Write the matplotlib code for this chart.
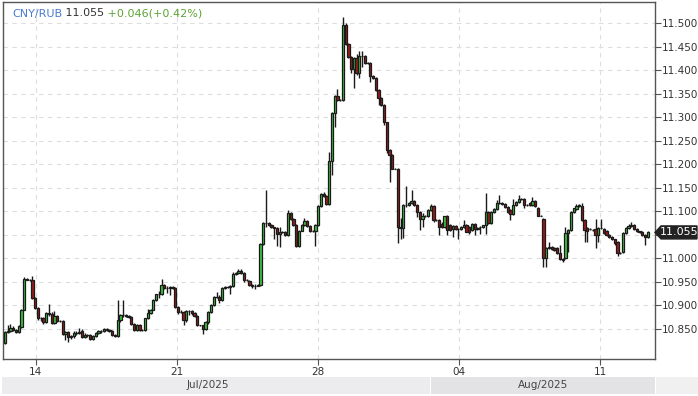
import matplotlib
matplotlib.use("Agg")
import matplotlib.pyplot as plt
from matplotlib.patches import Polygon
from matplotlib.transforms import blended_transform_factory
import numpy as np

# ---------------- data ----------------
opens = [
 10.819,10.844,10.846,10.851,10.847,10.843,10.853,10.891,10.956,10.954,
 10.954,10.915,10.895,10.872,10.873,10.864,10.883,10.882,10.863,10.877,
 10.867,10.867,10.839,10.843,10.833,10.834,10.840,10.842,10.845,10.833,
 10.836,10.836,10.829,10.834,10.841,10.845,10.845,10.849,10.848,10.846,
 10.836,10.834,10.868,10.879,10.879,10.878,10.876,10.861,10.847,10.858,
 10.847,10.847,10.872,10.883,10.891,10.912,10.923,10.925,10.943,10.936,
 10.937,10.938,10.937,10.896,10.885,10.886,10.868,10.888,10.887,10.883,
 10.878,10.857,10.857,10.850,10.864,10.885,10.900,10.917,10.918,10.912,
 10.937,10.939,10.939,10.941,10.967,10.968,10.974,10.968,10.953,10.951,
 10.944,10.942,10.942,10.943,11.031,11.076,11.075,11.070,11.066,11.064,
 11.052,11.056,11.056,11.049,11.097,11.084,11.070,11.027,11.059,11.070,
 11.080,11.068,11.058,11.059,11.071,11.112,11.136,11.132,11.115,11.206,
 11.309,11.345,11.337,11.337,11.496,11.456,11.429,11.402,11.426,11.394,
 11.430,11.430,11.415,11.415,11.388,11.383,11.358,11.340,11.326,11.289,
 11.230,11.219,11.191,11.191,11.067,11.064,11.113,11.114,11.118,11.121,
 11.113,11.099,11.084,11.091,11.090,11.102,11.111,11.082,11.082,11.072,
 11.067,11.091,11.070,11.062,11.068,11.063,11.063,11.067,11.070,11.066,
 11.060,11.074,11.063,11.066,11.067,11.070,11.099,11.075,11.099,11.104,
 11.118,11.116,11.116,11.109,11.102,11.095,11.113,11.120,11.127,11.127,
 11.113,11.118,11.113,11.122,11.108,11.091,11.084,11.000,11.021,11.025,
 11.021,11.021,11.012,10.998,11.000,11.053,11.060,11.098,11.104,11.111,
 11.111,11.082,11.064,11.062,11.060,11.062,11.050,11.064,11.062,11.059,
 11.050,11.045,11.040,11.035,11.011,11.014,11.053,11.064,11.069,11.071,
 11.062,11.057,11.055,11.050,11.046,
]
highs = [
 10.846,10.858,10.860,10.855,10.850,10.857,10.893,10.961,10.958,10.956,
 10.962,10.917,10.897,10.876,10.876,10.886,10.902,10.885,10.888,10.879,
 10.869,10.869,10.846,10.846,10.837,10.846,10.845,10.852,10.849,10.840,
 10.839,10.838,10.836,10.843,10.847,10.848,10.851,10.852,10.850,10.848,
 10.838,10.912,10.882,10.911,10.881,10.880,10.878,10.863,10.860,10.860,
 10.849,10.874,10.893,10.893,10.914,10.925,10.931,10.955,10.945,10.942,
 10.941,10.940,10.939,10.898,10.890,10.888,10.890,10.890,10.889,10.885,
 10.880,10.859,10.858,10.866,10.887,10.902,10.919,10.928,10.921,10.939,
 10.942,10.941,10.943,10.971,10.970,10.978,10.978,10.970,10.955,10.953,
 10.946,10.946,10.945,11.033,11.078,11.146,11.078,11.072,11.067,11.066,
 11.066,11.058,11.058,11.103,11.099,11.086,11.072,11.061,11.072,11.086,
 11.082,11.070,11.061,11.073,11.114,11.139,11.140,11.134,11.227,11.311,
 11.347,11.360,11.339,11.513,11.501,11.458,11.431,11.428,11.435,11.442,
 11.442,11.432,11.417,11.417,11.390,11.385,11.360,11.343,11.328,11.291,
 11.232,11.221,11.193,11.193,11.085,11.115,11.153,11.120,11.145,11.123,
 11.115,11.101,11.097,11.093,11.104,11.116,11.113,11.084,11.084,11.077,
 11.091,11.093,11.072,11.071,11.070,11.065,11.068,11.081,11.072,11.068,
 11.076,11.076,11.066,11.068,11.071,11.138,11.101,11.101,11.106,11.123,
 11.134,11.120,11.118,11.111,11.104,11.127,11.122,11.134,11.129,11.129,
 11.116,11.120,11.131,11.124,11.110,11.093,11.086,11.023,11.035,11.027,
 11.023,11.023,11.028,11.000,11.067,11.062,11.100,11.108,11.116,11.115,
 11.117,11.084,11.066,11.064,11.062,11.083,11.066,11.083,11.064,11.061,
 11.052,11.047,11.042,11.037,11.013,11.055,11.066,11.074,11.078,11.073,
 11.064,11.059,11.057,11.052,11.059,
]
lows = [
 10.817,10.842,10.843,10.845,10.840,10.840,10.851,10.889,10.953,10.952,
 10.913,10.893,10.868,10.866,10.861,10.862,10.878,10.860,10.860,10.865,
 10.865,10.837,10.826,10.822,10.828,10.831,10.836,10.839,10.830,10.830,
 10.832,10.826,10.827,10.832,10.839,10.842,10.843,10.846,10.844,10.834,
 10.833,10.832,10.865,10.876,10.876,10.874,10.859,10.845,10.845,10.845,
 10.845,10.845,10.870,10.881,10.889,10.910,10.915,10.922,10.934,10.926,
 10.922,10.934,10.894,10.882,10.883,10.859,10.864,10.880,10.880,10.876,
 10.855,10.855,10.839,10.848,10.860,10.883,10.898,10.915,10.905,10.910,
 10.935,10.936,10.924,10.939,10.965,10.966,10.966,10.949,10.951,10.941,
 10.937,10.935,10.940,10.941,11.029,11.066,11.068,11.064,11.041,11.027,
 11.024,11.054,11.047,11.047,11.082,11.068,11.024,11.024,11.057,11.068,
 11.066,11.056,11.056,11.027,11.069,11.110,11.130,11.113,11.113,11.177,
 11.280,11.335,11.335,11.335,11.454,11.427,11.395,11.362,11.390,11.383,
 11.408,11.413,11.413,11.376,11.381,11.356,11.326,11.324,11.284,11.225,
 11.163,11.189,11.189,11.032,11.040,11.044,11.110,11.112,11.116,11.111,
 11.088,11.060,11.067,11.088,11.088,11.100,11.078,11.080,11.049,11.065,
 11.065,11.049,11.058,11.045,11.060,11.042,11.061,11.065,11.055,11.052,
 11.058,11.049,11.061,11.052,11.065,11.052,11.073,11.073,11.097,11.102,
 11.116,11.114,11.107,11.097,11.082,11.093,11.111,11.118,11.125,11.106,
 11.111,11.111,11.111,11.109,11.090,11.089,10.982,10.981,11.019,11.017,
 11.016,11.010,10.996,10.993,10.998,11.014,11.058,11.096,11.102,11.109,
 11.080,11.035,11.035,11.060,11.058,11.021,11.035,11.062,11.051,11.048,
 11.043,11.038,11.028,11.004,11.009,11.012,11.051,11.062,11.067,11.060,
 11.055,11.053,11.048,11.028,11.044,
]
closes = [
 10.844,10.846,10.851,10.847,10.843,10.855,10.891,10.956,10.954,10.954,
 10.915,10.895,10.872,10.873,10.864,10.883,10.882,10.863,10.877,10.867,
 10.867,10.839,10.843,10.833,10.834,10.840,10.842,10.844,10.833,10.836,
 10.836,10.829,10.834,10.841,10.845,10.845,10.849,10.848,10.846,10.836,
 10.834,10.868,10.879,10.879,10.878,10.876,10.861,10.847,10.858,10.847,
 10.847,10.872,10.883,10.891,10.912,10.923,10.925,10.943,10.936,10.937,
 10.938,10.937,10.896,10.885,10.886,10.868,10.888,10.887,10.883,10.878,
 10.857,10.857,10.850,10.864,10.885,10.900,10.917,10.918,10.912,10.937,
 10.939,10.939,10.941,10.967,10.968,10.974,10.968,10.953,10.953,10.944,
 10.942,10.942,10.943,11.031,11.076,11.075,11.070,11.066,11.064,11.052,
 11.056,11.056,11.049,11.097,11.084,11.070,11.027,11.059,11.070,11.080,
 11.068,11.058,11.059,11.071,11.112,11.136,11.132,11.115,11.206,11.309,
 11.345,11.337,11.337,11.496,11.456,11.429,11.402,11.426,11.394,11.430,
 11.430,11.415,11.415,11.388,11.383,11.358,11.340,11.326,11.289,11.230,
 11.219,11.191,11.191,11.067,11.064,11.113,11.114,11.118,11.121,11.113,
 11.099,11.084,11.091,11.090,11.102,11.111,11.082,11.082,11.067,11.067,
 11.089,11.060,11.060,11.068,11.063,11.063,11.067,11.070,11.056,11.056,
 11.074,11.063,11.065,11.067,11.070,11.099,11.075,11.099,11.104,11.118,
 11.118,11.118,11.109,11.099,11.095,11.113,11.120,11.127,11.127,11.113,
 11.113,11.113,11.122,11.111,11.091,11.091,11.000,11.021,11.025,11.019,
 11.018,11.012,10.998,10.996,11.053,11.060,11.098,11.106,11.111,11.113,
 11.082,11.060,11.057,11.062,11.060,11.050,11.064,11.064,11.053,11.050,
 11.045,11.040,11.032,11.011,11.011,11.053,11.064,11.069,11.071,11.062,
 11.057,11.055,11.050,11.046,11.055,
]

week_tick_labels = ["14", "21", "28", "04", "11"]
month_labels = ["Jul/2025", "Aug/2025"]
pair_name = "CNY/RUB"
last_price = 11.055
change_text = "+0.046(+0.42%)"
y_ticks = [10.85, 10.90, 10.95, 11.00, 11.05, 11.10, 11.15,
           11.20, 11.25, 11.30, 11.35, 11.40, 11.45, 11.50]

# ---------------- layout ----------------
W, H = 698, 396
fig = plt.figure(figsize=(W / 100, H / 100), dpi=100)
fig.patch.set_facecolor("white")

L_PX, R_PX, T_PX, B_PX = 3, 655, 2, 359
ax = fig.add_axes([L_PX / W, (H - B_PX) / H, (R_PX - L_PX) / W, (B_PX - T_PX) / H])
ax.set_facecolor("white")

n = len(closes)
xs = np.arange(n)
FIRST_PX, STEP_PX = 5.0, 2.747
def px_to_idx(px):
    return (px - FIRST_PX) / STEP_PX

YMIN, YMAX = 10.7857, 11.5453
ax.set_xlim(px_to_idx(L_PX), px_to_idx(R_PX))
ax.set_ylim(YMIN, YMAX)

per_week = (176.9 - 35.7) / STEP_PX
first_tick = px_to_idx(35.7)
xticks = [first_tick + k * per_week for k in range(len(week_tick_labels))]

ax.set_xticks(xticks)
ax.set_xticklabels(week_tick_labels)
ax.set_yticks(y_ticks)
# the 11.050 label sits under the last-price marker in the reference
ax.set_yticklabels(["" if abs(v - 11.05) < 1e-9 else f"{v:.3f}" for v in y_ticks])
ax.yaxis.tick_right()

ax.grid(True, color="#dddddd", linestyle=(0, (4, 4)), linewidth=0.8)
ax.set_axisbelow(True)
for s in ax.spines.values():
    s.set_color("#555555")
    s.set_linewidth(1.0)

ax.tick_params(axis="y", direction="out", length=4, width=0.8, color="#555555",
               labelsize=7.5, labelcolor="#333333", pad=1)
ax.tick_params(axis="x", direction="out", length=4, width=0.8, color="#555555",
               labelsize=7.5, labelcolor="#333333", pad=2)
for lab in ax.get_xticklabels() + ax.get_yticklabels():
    lab.set_family("DejaVu Sans")

# candles
o = np.array(opens); h = np.array(highs); l = np.array(lows); c = np.array(closes)
up = c >= o
ax.vlines(xs, l, h, color="#1a1a1a", linewidth=1.0, zorder=2)
bottoms = np.minimum(o, c)
heights = np.abs(c - o)
colors = np.where(up, "#3fc43f", "#9c1b1b")
ax.bar(xs, heights, bottom=bottoms, width=0.82, color=colors,
       edgecolor="#1a1a1a", linewidth=0.9, zorder=3)

# ---------------- title ----------------
fig.canvas.draw()
renderer = fig.canvas.get_renderer()
x_cursor = 12
y_title = 1 - 13.5 / H
parts = [(pair_name, "#4a7bd0"), (" " + f"{last_price:.3f}", "#333333"),
         (" " + change_text, "#5ba332")]
for txt, col in parts:
    t = fig.text(x_cursor / W, y_title, txt, color=col, fontsize=8,
                 fontweight="normal", va="center", ha="left", family="DejaVu Sans")
    bb = t.get_window_extent(renderer=renderer)
    x_cursor += bb.width

# ---------------- last price marker ----------------
tr = blended_transform_factory(fig.transFigure, ax.transData)
half = 6.5 / (B_PX - T_PX) * (YMAX - YMIN)
poly = Polygon([(655 / W, last_price), (661 / W, last_price + half),
                (697 / W, last_price + half), (697 / W, last_price - half),
                (661 / W, last_price - half)], closed=True,
               facecolor="#222222", edgecolor="#222222", transform=tr, zorder=10)
fig.add_artist(poly)
price_txt = fig.text((662 + 696) / 2 / W, last_price, f"{last_price:.3f}", color="white",
                     fontsize=8, ha="center", va="center", zorder=11, family="DejaVu Sans")
price_txt.set_transform(tr)

# ---------------- month band ----------------
band = fig.add_axes([0, (H - 394) / H, 1, (394 - 377) / H])
band.set_xlim(px_to_idx(0), px_to_idx(W))
band.set_ylim(0, 1)
band.axis("off")
aug_start = first_tick + 2 * per_week + 4 * per_week / 5
band.axvspan(px_to_idx(2), aug_start - 0.3, color="#ececee", lw=0)
band.axvspan(aug_start, px_to_idx(R_PX), color="#e3e3e5", lw=0)
band.axvspan(px_to_idx(R_PX) + 0.3, px_to_idx(W), color="#f0f0f1", lw=0)
band.text((px_to_idx(2) + aug_start) / 2 - 3, 0.5, month_labels[0], ha="center",
          va="center", fontsize=7.5, color="#444444")
band.text((aug_start + px_to_idx(R_PX)) / 2, 0.5, month_labels[1], ha="center",
          va="center", fontsize=7.5, color="#444444")

fig.savefig("out.png", dpi=100, facecolor="white")
